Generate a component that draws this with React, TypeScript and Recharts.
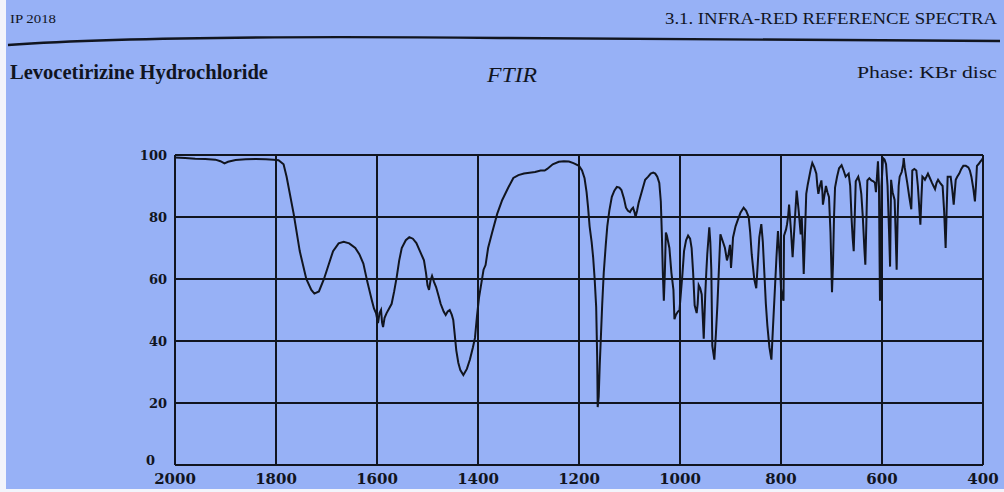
import { CartesianGrid, Line, LineChart, XAxis, YAxis } from "recharts";

// Spectrum trace: wavenumber (cm-1) and % transmittance
const wavenumbers = [
  2000, 1980, 1960, 1940, 1920, 1910, 1902, 1895, 1880, 1860, 1840, 1820, 1805, 1795, 1785,
  1779, 1765, 1753, 1740, 1730, 1724, 1715, 1705, 1695, 1687, 1676, 1666, 1655, 1643, 1635,
  1627, 1619, 1610, 1606, 1602, 1598, 1595, 1592, 1590, 1588, 1585, 1581, 1576, 1571, 1566,
  1561, 1556, 1551, 1543, 1536, 1529, 1522, 1515, 1507, 1503, 1500, 1497, 1494, 1491, 1487,
  1483, 1478, 1474, 1468, 1464, 1460, 1456, 1452, 1449, 1446, 1443, 1439, 1435, 1429, 1422,
  1416, 1410, 1406, 1402, 1398, 1393, 1389, 1385, 1380, 1372, 1362, 1352, 1340, 1330, 1320,
  1309, 1298, 1287, 1276, 1268, 1263, 1252, 1240, 1230, 1220, 1211, 1200, 1194, 1189, 1185,
  1182, 1179, 1175, 1172, 1169, 1166, 1164, 1163, 1161, 1159, 1157, 1154, 1151, 1147, 1144,
  1140, 1135, 1130, 1125, 1120, 1116, 1111, 1107, 1103, 1099, 1096, 1093, 1090, 1088, 1085,
  1082, 1076, 1069, 1063, 1058, 1053, 1049, 1045, 1041, 1038, 1036, 1034, 1032, 1030, 1028,
  1026, 1021, 1017, 1013, 1011, 1008, 1004, 1001, 998, 995, 992, 988, 984, 980, 977,
  974, 971, 967, 965, 963, 960, 957, 955, 953, 950, 948, 946, 942, 940, 938,
  936, 932, 929, 926, 923, 920, 915, 911, 907, 904, 901, 899, 897, 895, 890,
  885, 880, 874, 869, 864, 861, 858, 853, 849, 846, 843, 839, 836, 833, 830,
  827, 823, 819, 816, 812, 809, 806, 803, 800, 797, 795, 794, 790, 788, 786,
  784, 780, 777, 773, 769, 765, 761, 759, 757, 755, 753, 750, 747, 744, 741,
  738, 734, 730, 728, 726, 723, 720, 718, 717, 714, 711, 708, 705, 702, 700,
  699, 697, 695, 693, 689, 685, 680, 676, 672, 669, 666, 663, 660, 658, 656,
  654, 652, 647, 644, 641, 638, 635, 633, 631, 629, 625, 621, 617, 614, 612,
  610, 608, 606, 605, 604, 603, 601, 598, 595, 592, 589, 586, 584, 583, 582,
  579, 575, 573, 571, 569, 567, 565, 561, 558, 557, 555, 553, 550, 546, 542,
  541, 540, 536, 532, 529, 526, 524, 522, 520, 517, 515, 512, 509, 505, 501,
  498, 495, 492, 489, 485, 480, 477, 474, 472, 470, 467, 464, 461, 458, 456,
  454, 451, 447, 443, 439, 434, 429, 426, 423, 419, 416, 414, 412, 409, 406,
  402, 400,
];

const transmittance = [
  99.2, 99, 98.8, 98.7, 98.5, 98, 97.3, 97.8, 98.4, 98.6, 98.7, 98.6, 98.5, 98.3, 97,
  93, 81, 69, 60, 56.5, 55.3, 56, 60, 65, 69, 71.5, 72, 71.5, 70, 68,
  65, 59, 53, 50.5, 49, 45.8, 49, 50, 46, 44.5, 47.5, 49, 50.5, 52, 56,
  60.6, 66, 70, 72.5, 73.5, 73, 71.6, 69, 66, 62, 58, 56.5, 59.5, 61, 59,
  57.4, 54.5, 52, 49.5, 48.4, 49.5, 50, 48.5, 46.8, 42, 37, 33, 30.6, 29, 31,
  34, 38, 41, 48, 54, 59, 63, 64.5, 70, 75, 81, 85.5, 89.5, 92.6, 93.5,
  94, 94.3, 94.5, 95, 95, 95.5, 97, 97.8, 98, 97.9, 97.4, 96.5, 95, 92.5, 88,
  83, 77, 72, 67, 60, 51, 35, 18.7, 22, 32, 40, 52, 62, 71, 77,
  82, 86.5, 88.5, 89.7, 89.5, 88.7, 86, 83, 82, 81.6, 82.5, 83, 81.5, 80, 82,
  84.5, 88, 92, 93, 94, 94.3, 94, 93, 91, 85, 75, 62, 53, 62, 75,
  74, 70, 62, 56.5, 47, 48.5, 49.5, 50, 56, 62, 69, 72.5, 74, 73, 70,
  62, 51.5, 49, 52, 58, 57, 55, 48, 40.7, 55, 62, 68, 76.7, 72, 63,
  38.4, 34, 42, 51.5, 63, 74.4, 72, 70, 66, 68, 71, 63.6, 68, 73.4, 77,
  79.3, 81.5, 83, 82, 80, 75, 68, 60, 57, 65, 73.4, 77.7, 72, 62, 52,
  45, 38, 34, 44, 57, 67, 75.5, 68, 57, 54, 53, 74, 76, 77.7, 80,
  84, 75, 67, 78, 88.5, 82, 74.4, 80, 72, 61.6, 72, 87.5, 90.5, 93, 95.5,
  97.4, 96, 94, 90, 87.5, 90, 91.8, 88, 84, 87, 90, 88, 86.5, 75, 62,
  55.7, 65, 80, 89.5, 93, 95.7, 96.7, 95, 93, 93.5, 94, 90, 78.7, 73, 69,
  80, 91.5, 93, 91, 87.5, 80, 70, 64.6, 78, 91.8, 92.5, 91.8, 91.5, 91, 88,
  93, 98, 90, 70, 53, 65, 90, 99, 98.5, 97, 90, 75, 64, 78, 92,
  88, 85.5, 75, 63, 80, 90, 93, 94.5, 97, 99, 96, 94, 91, 86.5, 82.5,
  88, 95, 95.5, 95, 90, 82.5, 77.5, 86, 93, 92.5, 92, 93, 94, 92.5, 91,
  90, 89, 91, 92, 91, 90, 82, 70, 82, 93, 93, 93, 89, 84, 88,
  92, 93, 94, 95.5, 96.5, 96.5, 96, 95, 93, 89, 85, 90, 96.5, 97, 97.7,
  98.5, 99,
];

const xTicks = [2000, 1800, 1600, 1400, 1200, 1000, 800, 600, 400];
const yTicks = [0, 20, 40, 60, 80, 100];

const data = wavenumbers.map((wn, i) => ({ wn, t: transmittance[i] }));

const ink = "#11151f";
const paper = "#97b1f6";
const serif = "'Liberation Serif', 'Times New Roman', serif";
const tickFont = "'DejaVu Serif', serif";

// the zero label sits up and to the left of the corner, clear of "2000"
function YTick({ x, y, payload }: any) {
  const zero = payload.value === 0;
  return (
    <text
      x={zero ? x - 12 : x}
      y={zero ? y - 5 : y}
      dy="0.355em"
      textAnchor="end"
      fill={ink}
      fontSize={13}
      fontFamily={tickFont}
      fontWeight="bold"
    >
      {payload.value}
    </text>
  );
}

export default function App() {
  return (
    <div style={{ position: "absolute", left: 0, top: 0, width: 1004, height: 492, background: "#f2f4fb" }}>
      <div style={{ position: "absolute", left: 6, top: 0, width: 998, height: 489, background: paper }} />

      <svg width={1004} height={492} style={{ position: "absolute", left: 0, top: 0 }}>
        <text x={10} y={23} fontFamily={serif} fontSize={13} fill={ink} textLength={46} lengthAdjust="spacingAndGlyphs">
          IP 2018
        </text>
        <text x={665} y={24} fontFamily={serif} fontSize={16} fill={ink} textLength={332} lengthAdjust="spacingAndGlyphs">
          3.1. INFRA-RED REFERENCE SPECTRA
        </text>
        <path d="M8 45 C 120 37, 300 36, 500 38 S 900 41, 1000 41" fill="none" stroke={ink} strokeWidth={2.4} />
        <text x={10} y={79} fontFamily={serif} fontSize={20} fontWeight="bold" fill={ink} textLength={258} lengthAdjust="spacingAndGlyphs">
          Levocetirizine Hydrochloride
        </text>
        <text x={487} y={82} fontFamily={serif} fontSize={20} fontStyle="italic" fill={ink} textLength={50} lengthAdjust="spacingAndGlyphs">
          FTIR
        </text>
        <text x={857} y={78} fontFamily={serif} fontSize={17} fill={ink} textLength={140} lengthAdjust="spacingAndGlyphs">
          Phase: KBr disc
        </text>
      </svg>

      <div style={{ position: "absolute", left: 0, top: 0 }}>
        <LineChart width={1004} height={492} data={data} margin={{ top: 155, right: 21, bottom: 0, left: 0 }}>
          <CartesianGrid stroke={ink} strokeWidth={2} strokeDasharray="" />
          <XAxis
            dataKey="wn"
            type="number"
            domain={[400, 2000]}
            reversed
            ticks={xTicks}
            height={27}
            axisLine={false}
            tickLine={false}
            interval={0}
            tick={{ fill: ink, fontSize: 15, fontFamily: tickFont, fontWeight: "bold" }}
          />
          <YAxis
            type="number"
            domain={[0, 100]}
            ticks={yTicks}
            width={175}
            axisLine={false}
            tickLine={false}
            interval={0}
            tick={<YTick />}
          />
          <Line
            dataKey="t"
            type="linear"
            stroke={ink}
            strokeWidth={2}
            dot={false}
            isAnimationActive={false}
          />
        </LineChart>
      </div>
    </div>
  );
}
